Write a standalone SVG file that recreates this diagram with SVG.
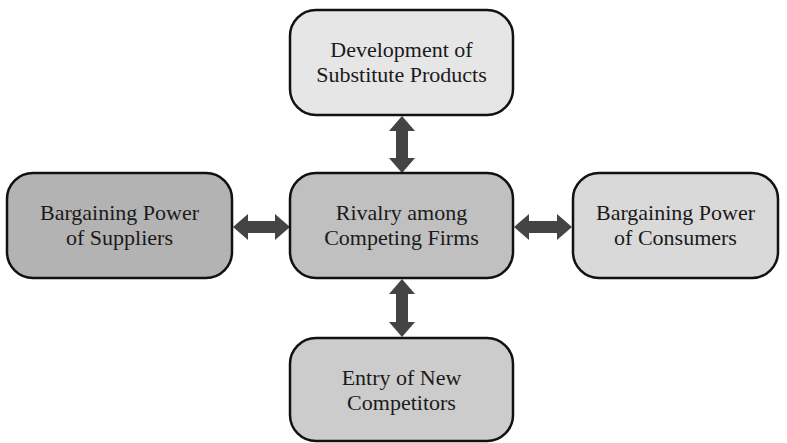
<svg xmlns="http://www.w3.org/2000/svg" width="787" height="443" viewBox="0 0 787 443">
  <style>
    .box { stroke: #111; stroke-width: 2.5; }
    .lbl { font-family: "Liberation Serif", "DejaVu Serif", serif; font-size: 22px; fill: #1a1a1a; text-anchor: middle; }
    .arr { fill: #444; }
  </style>
  <rect width="787" height="443" fill="#fff"/>

  <g id="connectors">
    <!-- vertical double arrow: substitutes <-> rivalry -->
    <polygon class="arr" points="402,116 415,131 408,131 408,158 415,158 402,173 389,158 396,158 396,131 389,131"/>
    <!-- vertical double arrow: rivalry <-> new entrants -->
    <polygon class="arr" points="402,279 415,294 408,294 408,322 415,322 402,337 389,322 396,322 396,294 389,294"/>
    <!-- horizontal double arrow: suppliers <-> rivalry -->
    <polygon class="arr" points="233,227 248,214 248,221 275,221 275,214 290,227 275,240 275,233 248,233 248,240"/>
    <!-- horizontal double arrow: rivalry <-> consumers -->
    <polygon class="arr" points="514,227 529,214 529,221 557,221 557,214 572,227 557,240 557,233 529,233 529,240"/>
  </g>

  <g id="substitutes">
    <rect class="box" x="290" y="10" width="223" height="105" rx="26" fill="#e6e6e6"/>
    <text class="lbl" x="401.5" y="57">Development of</text>
    <text class="lbl" x="401.5" y="82">Substitute Products</text>
  </g>

  <g id="rivalry">
    <rect class="box" x="290" y="173" width="223" height="105" rx="26" fill="#c0c0c0"/>
    <text class="lbl" x="401.5" y="220">Rivalry among</text>
    <text class="lbl" x="401.5" y="245">Competing Firms</text>
  </g>

  <g id="suppliers">
    <rect class="box" x="7" y="173" width="225" height="105" rx="26" fill="#b3b3b3"/>
    <text class="lbl" x="119.5" y="220">Bargaining Power</text>
    <text class="lbl" x="119.5" y="245">of Suppliers</text>
  </g>

  <g id="consumers">
    <rect class="box" x="573" y="173" width="205" height="105" rx="26" fill="#d9d9d9"/>
    <text class="lbl" x="675.5" y="220">Bargaining Power</text>
    <text class="lbl" x="675.5" y="245">of Consumers</text>
  </g>

  <g id="entrants">
    <rect class="box" x="290" y="338" width="223" height="103" rx="26" fill="#cccccc"/>
    <text class="lbl" x="401.5" y="385">Entry of New</text>
    <text class="lbl" x="401.5" y="410">Competitors</text>
  </g>
</svg>
